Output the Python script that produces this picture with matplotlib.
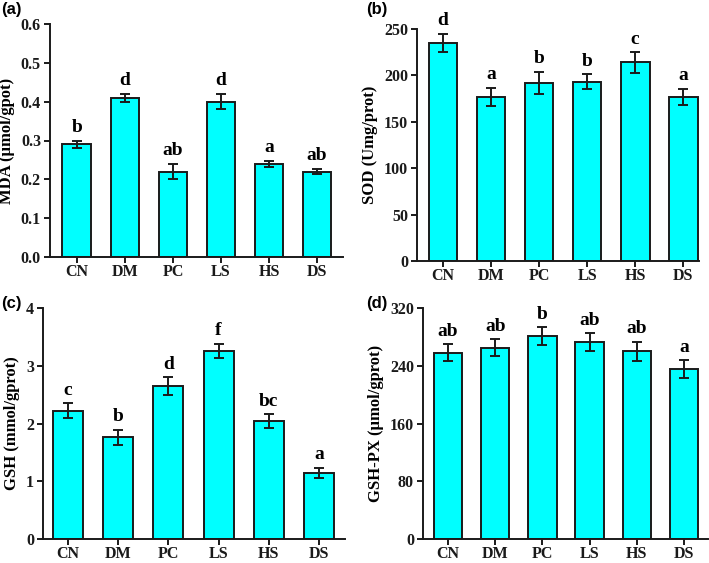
import matplotlib
matplotlib.use("Agg")
import matplotlib.pyplot as plt
import numpy as np

groups = ["CN", "DM", "PC", "LS", "HS", "DS"]

mda = [0.29, 0.41, 0.22, 0.40, 0.24, 0.22]
mda_err = [0.01, 0.01, 0.02, 0.02, 0.008, 0.007]
mda_sig = ["b", "d", "ab", "d", "a", "ab"]

sod = [235, 177, 192, 193, 214, 177]
sod_err = [10, 9.5, 12, 8, 11, 8.5]
sod_sig = ["d", "a", "b", "b", "c", "a"]

gsh = [2.22, 1.76, 2.65, 3.26, 2.04, 1.14]
gsh_err = [0.13, 0.13, 0.15, 0.12, 0.12, 0.09]
gsh_sig = ["c", "b", "d", "f", "bc", "a"]

gpx = [258, 265, 281, 273, 260, 235]
gpx_err = [12, 12, 12.5, 12, 13.5, 12.5]
gpx_sig = ["ab", "ab", "b", "ab", "ab", "a"]

serif = ["Liberation Serif", "DejaVu Serif"]
W, H = 709, 563
fig = plt.figure(figsize=(W / 100, H / 100), dpi=100)

def px_axes(l, t, r, b):
    return fig.add_axes([l / W, 1 - b / H, (r - l) / W, (b - t) / H])

panels = [
    dict(box=(50, 24, 343, 257), vals=mda, err=mda_err, sig=mda_sig,
         ylim=(0, 0.6), ticks=np.arange(0, 0.61, 0.1), fmt="{:.1f}",
         xlim=(-0.56, 5.54), ylabel="MDA (μmol/gpot)", tag="(a)", tagpos=(1, 2), off=0.012),
    dict(box=(417, 29, 699, 261), vals=sod, err=sod_err, sig=sod_sig,
         ylim=(0, 250), ticks=np.arange(0, 251, 50), fmt="{:.0f}",
         xlim=(-0.54, 5.33), ylabel="SOD (Umg/prot)", tag="(b)", tagpos=(366, 2), off=5),
    dict(box=(43, 308, 345, 539), vals=gsh, err=gsh_err, sig=gsh_sig,
         ylim=(0, 4), ticks=np.arange(0, 5, 1), fmt="{:.0f}",
         xlim=(-0.5, 5.52), ylabel="GSH (mmol/gprot)", tag="(c)", tagpos=(1, 296), off=0.08),
    dict(box=(423, 308, 708, 539), vals=gpx, err=gpx_err, sig=gpx_sig,
         ylim=(0, 320), ticks=np.arange(0, 321, 80), fmt="{:.0f}",
         xlim=(-0.53, 5.51), ylabel="GSH-PX (μmol/gprot)", tag="(d)", tagpos=(366, 296), off=6),
]

x = np.arange(len(groups))
for p in panels:
    ax = px_axes(*p["box"])
    ax.bar(x, p["vals"], width=0.6, color="#00FFFF", edgecolor="#1a1a1a", linewidth=1.4, zorder=2)
    ax.errorbar(x, p["vals"], yerr=p["err"], fmt="none", ecolor="#1a1a1a",
                elinewidth=1.4, capsize=3.5, capthick=1.4, zorder=3)
    for xi, v, e, s in zip(x, p["vals"], p["err"], p["sig"]):
        ax.text(xi, v + e + p["off"], s, ha="center", va="bottom",
                family=serif, fontweight="bold", fontsize=14)
    ax.set_xlim(*p["xlim"])
    ax.set_ylim(*p["ylim"])
    ax.set_yticks(p["ticks"])
    ax.set_yticklabels([p["fmt"].format(t) for t in p["ticks"]],
                       family=serif, fontweight="bold", fontsize=11.5)
    ax.set_xticks(x)
    ax.set_xticklabels(groups, family=serif, fontweight="bold", fontsize=11.5)
    ax.set_ylabel(p["ylabel"], family=serif, fontweight="bold", fontsize=12, labelpad=4)
    for side in ["top", "right"]:
        ax.spines[side].set_visible(False)
    for side in ["left", "bottom"]:
        ax.spines[side].set_linewidth(1.4)
        ax.spines[side].set_color("#1a1a1a")
    ax.tick_params(axis="y", direction="out", length=4.5, width=1.4, colors="#1a1a1a", pad=2)
    ax.tick_params(axis="x", direction="out", length=4, width=1.4, colors="#1a1a1a", pad=1)
    fig.text(p["tagpos"][0] / W, 1 - p["tagpos"][1] / H, p["tag"], ha="left", va="top",
             family=["Liberation Sans", "DejaVu Sans"], fontsize=12, fontweight="bold")

fig.savefig("out.png", dpi=100)
